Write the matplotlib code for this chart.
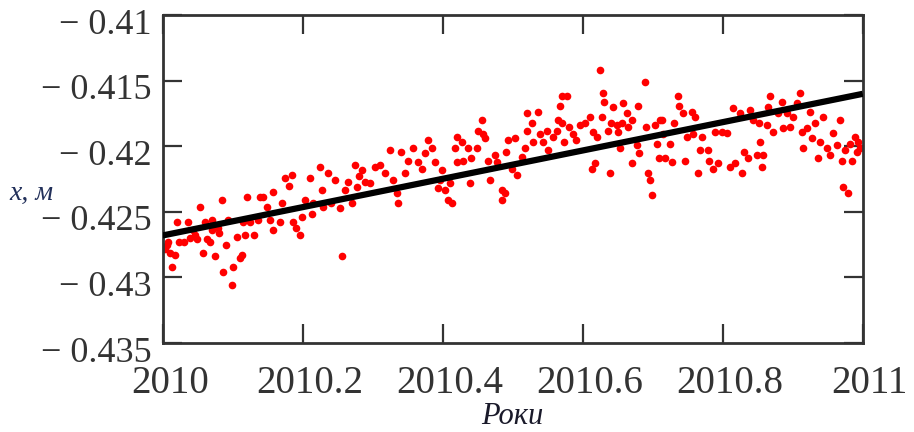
import matplotlib.pyplot as plt
import matplotlib.transforms as mtransforms

# точки вимірювань: (частка року після 2010, x в метрах)
part_jan = [(0.006, -0.4275), (0.003, -0.4278), (0.010, -0.4281), (0.017, -0.4283), (0.013, -0.4292),
            (0.007, -0.4273), (0.021, -0.4258), (0.024, -0.4273), (0.031, -0.4273), (0.036, -0.4258),
            (0.039, -0.4270), (0.046, -0.4268), (0.049, -0.4271), (0.053, -0.4246), (0.057, -0.4281),
            (0.063, -0.4271), (0.067, -0.4273), (0.070, -0.4256), (0.074, -0.4284), (0.079, -0.4262),
            (0.081, -0.4266), (0.084, -0.4241), (0.086, -0.4296), (0.091, -0.4275), (0.093, -0.4256),
            (0.099, -0.4306), (0.100, -0.4292), (0.106, -0.4269), (0.110, -0.4285), (0.113, -0.4283),
            (0.117, -0.4268), (0.121, -0.4239), (0.124, -0.4258), (0.131, -0.4268), (0.136, -0.4256),
            (0.139, -0.4239), (0.043, -0.4264), (0.060, -0.4258), (0.071, -0.4264), (0.114, -0.4258)]
part_feb = [(0.143, -0.4239), (0.149, -0.4246), (0.153, -0.4256), (0.157, -0.4235), (0.158, -0.4264),
            (0.167, -0.4258), (0.171, -0.4243), (0.174, -0.4224), (0.181, -0.4230), (0.184, -0.4222),
            (0.186, -0.4258), (0.191, -0.4262), (0.196, -0.4268), (0.199, -0.4254), (0.203, -0.4241),
            (0.210, -0.4224), (0.213, -0.4252), (0.214, -0.4243), (0.224, -0.4216), (0.227, -0.4233),
            (0.229, -0.4246), (0.236, -0.4220), (0.241, -0.4243), (0.246, -0.4226), (0.253, -0.4247),
            (0.256, -0.4284), (0.260, -0.4233), (0.264, -0.4227), (0.270, -0.4243), (0.274, -0.4214),
            (0.277, -0.4231), (0.281, -0.4223)]
part_apr = [(0.284, -0.4218), (0.289, -0.4227), (0.296, -0.4228), (0.303, -0.4216), (0.310, -0.4214),
            (0.317, -0.4220), (0.324, -0.4203), (0.329, -0.4226), (0.334, -0.4236), (0.336, -0.4243),
            (0.341, -0.4204), (0.346, -0.4220), (0.350, -0.4211), (0.357, -0.4201), (0.364, -0.4212),
            (0.370, -0.4217), (0.374, -0.4205), (0.379, -0.4195), (0.384, -0.4201), (0.389, -0.4212),
            (0.393, -0.4232), (0.399, -0.4218), (0.403, -0.4233), (0.407, -0.4241), (0.413, -0.4243),
            (0.417, -0.4201), (0.420, -0.4193), (0.421, -0.4212), (0.410, -0.4228), (0.396, -0.4226)]
part_jun = [(0.427, -0.4197), (0.429, -0.4211), (0.436, -0.4201), (0.441, -0.4209), (0.439, -0.4228),
            (0.449, -0.4201), (0.450, -0.4188), (0.456, -0.4180), (0.457, -0.4191), (0.460, -0.4194),
            (0.464, -0.4211), (0.467, -0.4226), (0.474, -0.4207), (0.477, -0.4212), (0.484, -0.4233),
            (0.485, -0.4241), (0.489, -0.4236), (0.491, -0.4204), (0.493, -0.4195), (0.499, -0.4217),
            (0.503, -0.4194), (0.506, -0.4222), (0.513, -0.4208), (0.517, -0.4201), (0.520, -0.4188),
            (0.521, -0.4175), (0.527, -0.4182), (0.529, -0.4197), (0.536, -0.4174), (0.539, -0.4191),
            (0.543, -0.4197), (0.549, -0.4188), (0.550, -0.4203), (0.557, -0.4193), (0.563, -0.4188),
            (0.564, -0.4180), (0.567, -0.4169), (0.570, -0.4162)]
part_aug = [(0.571, -0.4182), (0.573, -0.4197), (0.577, -0.4162), (0.581, -0.4185), (0.586, -0.4191),
            (0.591, -0.4195), (0.596, -0.4184), (0.603, -0.4182), (0.610, -0.4178), (0.613, -0.4217),
            (0.614, -0.4189), (0.617, -0.4213), (0.621, -0.4193), (0.624, -0.4142), (0.627, -0.4178),
            (0.629, -0.4159), (0.631, -0.4166), (0.636, -0.4188), (0.639, -0.4220), (0.641, -0.4182),
            (0.643, -0.4170), (0.649, -0.4184), (0.650, -0.4189), (0.653, -0.4201), (0.656, -0.4182),
            (0.657, -0.4167), (0.663, -0.4175), (0.664, -0.4185), (0.670, -0.4180), (0.671, -0.4213),
            (0.677, -0.4199), (0.679, -0.4169), (0.681, -0.4205), (0.689, -0.4151), (0.691, -0.4185),
            (0.693, -0.4220), (0.696, -0.4226), (0.699, -0.4237), (0.703, -0.4184), (0.706, -0.4198),
            (0.710, -0.4180), (0.709, -0.4209)]
part_oct = [(0.713, -0.4180), (0.714, -0.4191), (0.717, -0.4209), (0.724, -0.4198), (0.727, -0.4212),
            (0.731, -0.4182), (0.736, -0.4162), (0.737, -0.4169), (0.743, -0.4175), (0.746, -0.4211),
            (0.749, -0.4193), (0.756, -0.4174), (0.757, -0.4191), (0.760, -0.4178), (0.764, -0.4220),
            (0.767, -0.4203), (0.771, -0.4193), (0.779, -0.4203), (0.781, -0.4211), (0.786, -0.4217),
            (0.789, -0.4189), (0.793, -0.4213), (0.799, -0.4189), (0.806, -0.4190), (0.810, -0.4216),
            (0.814, -0.4171), (0.817, -0.4213), (0.824, -0.4175), (0.827, -0.4220), (0.831, -0.4204),
            (0.836, -0.4209), (0.839, -0.4172), (0.843, -0.4180), (0.849, -0.4207), (0.853, -0.4197),
            (0.856, -0.4216), (0.852, -0.4182)]
part_dec = [(0.857, -0.4207), (0.863, -0.4184), (0.864, -0.4170), (0.867, -0.4162), (0.871, -0.4189),
            (0.879, -0.4175), (0.884, -0.4166), (0.886, -0.4186), (0.891, -0.4175), (0.896, -0.4185),
            (0.900, -0.4178), (0.906, -0.4167), (0.910, -0.4159), (0.913, -0.4189), (0.914, -0.4201),
            (0.920, -0.4186), (0.924, -0.4174), (0.927, -0.4194), (0.931, -0.4182), (0.936, -0.4209),
            (0.939, -0.4197), (0.943, -0.4178), (0.949, -0.4201), (0.953, -0.4207), (0.957, -0.4190),
            (0.963, -0.4199), (0.967, -0.4180), (0.970, -0.4211), (0.971, -0.4231), (0.974, -0.4203),
            (0.979, -0.4236), (0.981, -0.4198), (0.984, -0.4211), (0.989, -0.4193), (0.991, -0.4204),
            (0.993, -0.4197), (0.996, -0.4201)]

# лінійний тренд
trend_t = [2010.0, 2011.0]
trend_x = [-0.4268, -0.4160]

x_ticks = [2010, 2010.2, 2010.4, 2010.6, 2010.8, 2011]
x_tick_labels = ['2010', '2010.2', '2010.4', '2010.6', '2010.8', '2011']
y_ticks = [-0.41, -0.415, -0.42, -0.425, -0.43, -0.435]
y_tick_labels = ['\u2212 0.41', '\u2212 0.415', '\u2212 0.42', '\u2212 0.425', '\u2212 0.43', '\u2212 0.435']

points = part_jan + part_feb + part_apr + part_jun + part_aug + part_oct + part_dec
t = [2010 + p[0] for p in points]
x = [p[1] for p in points]

plt.rcParams['font.family'] = ['Liberation Serif', 'DejaVu Serif']

fig = plt.figure(figsize=(9.14, 4.32), dpi=100)
ax = fig.add_axes([0.178, 0.206, 0.766, 0.759])

ax.plot(t, x, 'o', color='#ff0000', ms=5.5, mec='none', zorder=2)
ax.plot(trend_t, trend_x, color='black', lw=4.5, solid_capstyle='butt', zorder=3)

ax.set_xlim(2010, 2011)
ax.set_ylim(-0.435, -0.41)
ax.set_xticks(x_ticks)
ax.set_xticklabels(x_tick_labels)
ax.set_yticks(y_ticks)
ax.set_yticklabels(y_tick_labels)

for s in ax.spines.values():
    s.set_linewidth(2)
    s.set_color('#333333')

ax.tick_params(direction='in', length=14, width=1.6, top=True, right=True,
               color='#333333', labelcolor='#333333')
ax.tick_params(axis='y', labelsize=26, pad=8)
ax.tick_params(axis='x', labelsize=28, pad=16)

# зсуви підписів як у Mathcad
shift_y = mtransforms.ScaledTranslation(0, -0.06, fig.dpi_scale_trans)
for lab in ax.get_yticklabels():
    lab.set_transform(lab.get_transform() + shift_y)
shift_x = mtransforms.ScaledTranslation(0.07, 0, fig.dpi_scale_trans)
for lab in ax.get_xticklabels():
    lab.set_transform(lab.get_transform() + shift_x)

ax.set_ylabel('x, м', rotation=0, fontsize=20, style='italic', color='#22305a')
ax.yaxis.set_label_coords(-0.187, 0.457)
ax.yaxis.label.set_va('center')
ax.set_xlabel('Роки', fontsize=22, style='italic', color='#1a1a2a')
ax.xaxis.set_label_coords(0.5, -0.225)
ax.xaxis.label.set_va('center')

plt.savefig('out.png', dpi=100)
